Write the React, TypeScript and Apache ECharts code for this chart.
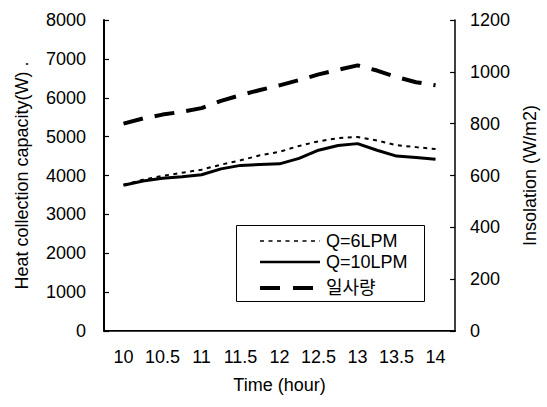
import React, { useEffect, useRef } from "react";
import * as echarts from "echarts";

const xLabels = ["10", "10.5", "11", "11.5", "12", "12.5", "13", "13.5", "14"];
const hours = [10, 10.25, 10.5, 10.75, 11, 11.25, 11.5, 11.75, 12, 12.25, 12.5, 12.75, 13, 13.25, 13.5, 13.75, 14];
const q6 = [3760, 3890, 3990, 4070, 4150, 4280, 4390, 4520, 4610, 4760, 4880, 4960, 4990, 4900, 4780, 4730, 4680];
const q10 = [3750, 3860, 3930, 3970, 4020, 4170, 4260, 4280, 4300, 4440, 4650, 4770, 4820, 4650, 4500, 4465, 4415];
const insolation = [800, 820, 835, 846, 860, 888, 910, 930, 948, 968, 990, 1008, 1025, 1005, 980, 960, 948];
const seriesNames = ["Q=6LPM", "Q=10LPM", "일사량"];

const FONT = "'Liberation Sans', Arial, 'Noto Sans CJK KR', sans-serif";
const FS = 18;

export default function App() {
  const ref = useRef<HTMLDivElement>(null);
  useEffect(() => {
    if (!ref.current) return;
    const chart = echarts.init(ref.current, undefined, { renderer: "svg" });
    const pair = (vals: number[]) => hours.map((h, i) => [h, vals[i]]);
    const lx0 = 260, lx1 = 320, tx = 326;
    const rows = [241, 262, 288];
    const plain = (v: number) => String(v);
    chart.setOption({
      animation: false,
      backgroundColor: "#ffffff",
      textStyle: { fontFamily: FONT },
      grid: { left: 104, right: 89, top: 20, bottom: 76 },
      xAxis: [
        {
          type: "category",
          data: xLabels,
          position: "bottom",
          boundaryGap: true,
          axisLine: { lineStyle: { color: "#000", width: 2 } },
          axisTick: { inside: true, length: 5, lineStyle: { color: "#000", width: 1.2 } },
          axisLabel: { color: "#000", fontSize: FS, margin: 17, interval: 0, fontFamily: FONT },
          splitLine: { show: false },
          name: "Time (hour)",
          nameLocation: "middle",
          nameGap: 45,
          nameTextStyle: { color: "#000", fontSize: FS, fontFamily: FONT },
        },
        {
          type: "value",
          min: 9.75,
          max: 14.25,
          position: "top",
          axisLine: { show: true, lineStyle: { color: "#444", width: 1 } },
          axisTick: { show: false },
          axisLabel: { show: false },
          splitLine: { show: false },
        },
      ],
      yAxis: [
        {
          type: "value",
          min: 0,
          max: 8000,
          interval: 1000,
          position: "left",
          axisLine: { show: true, lineStyle: { color: "#000", width: 2 } },
          axisTick: { show: true, inside: true, length: 5, lineStyle: { color: "#000", width: 1.2 } },
          axisLabel: { color: "#000", fontSize: FS, margin: 18, fontFamily: FONT, formatter: plain },
          splitLine: { show: false },
          name: "Heat collection capacity(W) .",
          nameLocation: "middle",
          nameGap: 73,
          nameRotate: 90,
          nameTextStyle: { color: "#000", fontSize: FS, fontFamily: FONT },
        },
        {
          type: "value",
          min: 0,
          max: 1200,
          interval: 200,
          position: "right",
          axisLine: { show: true, lineStyle: { color: "#000", width: 1.5 } },
          axisTick: { show: true, inside: true, length: 5, lineStyle: { color: "#000", width: 1.2 } },
          axisLabel: { color: "#000", fontSize: FS, margin: 15, fontFamily: FONT, formatter: plain },
          splitLine: { show: false },
          name: "Insolation (W/m2)",
          nameLocation: "middle",
          nameGap: 45,
          nameRotate: 90,
          nameTextStyle: { color: "#000", fontSize: FS, fontFamily: FONT },
        },
      ],
      series: [
        {
          name: seriesNames[0],
          type: "line",
          xAxisIndex: 1,
          yAxisIndex: 0,
          data: pair(q6),
          symbol: "none",
          lineStyle: { color: "#000", width: 2, type: [4, 4.5] },
          z: 3,
        },
        {
          name: seriesNames[1],
          type: "line",
          xAxisIndex: 1,
          yAxisIndex: 0,
          data: pair(q10),
          symbol: "none",
          lineStyle: { color: "#000", width: 3 },
          z: 3,
        },
        {
          name: seriesNames[2],
          type: "line",
          xAxisIndex: 1,
          yAxisIndex: 1,
          data: pair(insolation),
          symbol: "none",
          lineStyle: { color: "#000", width: 4, type: [20, 12] },
          z: 3,
        },
      ],
      graphic: [
        {
          type: "rect",
          z: 100,
          shape: { x: 236.5, y: 225.5, width: 188, height: 76 },
          style: { fill: "#fff", stroke: "#000", lineWidth: 1 },
        },
        {
          type: "line",
          z: 101,
          shape: { x1: lx0, y1: rows[0], x2: lx1, y2: rows[0] },
          style: { stroke: "#000", lineWidth: 1.5, lineDash: [4, 4.5] },
        },
        {
          type: "line",
          z: 101,
          shape: { x1: lx0, y1: rows[1], x2: lx1, y2: rows[1] },
          style: { stroke: "#000", lineWidth: 2.5 },
        },
        {
          type: "line",
          z: 101,
          shape: { x1: lx0, y1: rows[2], x2: lx1 - 4, y2: rows[2] },
          style: { stroke: "#000", lineWidth: 4, lineDash: [20, 13] },
        },
        ...seriesNames.map((n, i) => ({
          type: "text",
          z: 101,
          x: tx,
          y: rows[i],
          style: { text: n, fill: "#000", font: `${FS}px ${FONT}`, verticalAlign: "middle" },
        })),
      ],
    });
    return () => chart.dispose();
  }, []);
  return <div ref={ref} style={{ position: "fixed", left: 0, top: 0, width: 547, height: 407 }} />;
}
